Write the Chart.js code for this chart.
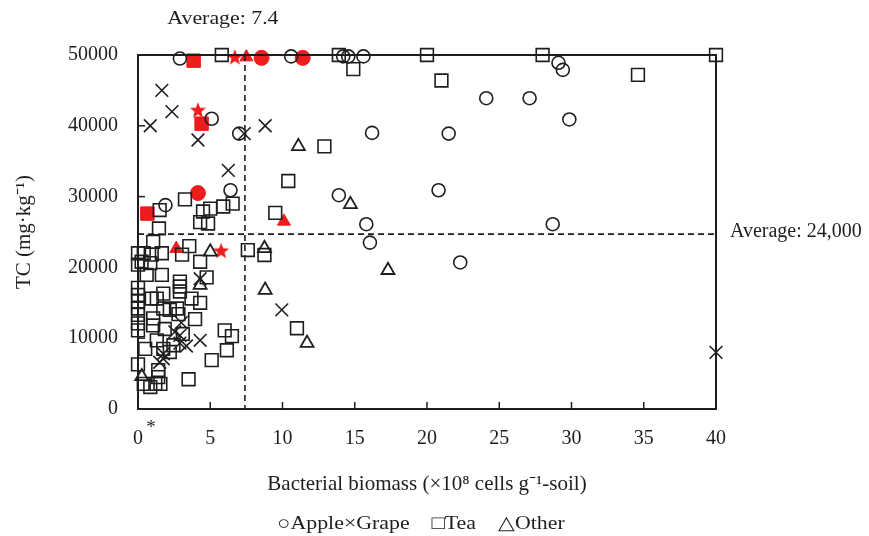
<!DOCTYPE html>
<html>
<head>
<meta charset="utf-8">
<script src="https://cdn.jsdelivr.net/npm/chart.js@4.4.1/dist/chart.umd.min.js"></script>
<style>
  html, body { margin: 0; padding: 0; background: #fff; }
  #wrap { width: 869px; height: 536px; }
</style>
</head>
<body>
<div id="wrap"><canvas id="myChart" width="869" height="536"></canvas></div>
<script>
// values: [biomass, TC]
var apple = [[2.9,49500],[10.6,49800],[14.2,49800],[14.55,49800],[15.6,49800],[29.1,48900],[29.4,47900],
  [24.1,43900],[27.1,43900],[5.1,41000],[7.0,38900],[16.2,39000],[21.5,38900],[29.85,40900],[6.4,30900],
  [13.9,30200],[20.8,30900],[1.9,28800],[15.8,26100],[28.7,26100],[16.05,23500],[22.3,20700]];
var appleRed = [[8.55,49600],[11.4,49600],[4.15,30500]];

var grape = [[1.65,45000],[2.35,42000],[0.85,40000],[4.15,38000],[7.35,38900],[8.8,40000],[6.25,33700],
  [9.95,14000],[40,8000],[4.3,18400],[3.0,12200],[2.55,10900],[4.3,9700],[3.35,8900],[2.9,9300],
  [1.75,7800],[1.5,6600],[1.75,7100],[2.9,10400]];
var grapeRed = [[6.7,49700],[4.15,42200],[5.75,22350]];

var tea = [[5.8,50000],[13.9,50000],[20.0,50000],[28.0,50000],[40,50000],[14.9,48000],[21.0,46400],
  [34.6,47200],[12.9,37100],[10.4,32200],[3.25,29600],[1.5,28100],[5.0,28300],[4.5,27900],[5.9,28600],
  [6.55,29000],[4.3,26400],[4.85,26200],[1.45,25500],[9.5,27700],[1.05,23600],[3.55,23000],[3.05,21800],
  [7.6,22450],[8.75,21750],[0,22000],[0.4,22000],[0.95,21800],[1.65,22000],[0.25,20800],[0.85,20600],
  [0,20400],[4.3,20800],[0.6,18950],[1.65,18950],[4.75,18600],[2.9,18000],[2.9,17300],[2.9,16600],
  [0,17100],[0,16100],[0,15200],[0,14200],[0,13300],[0,12100],[0,11100],[0.95,15600],[1.3,15600],
  [1.75,16300],[3.7,15600],[4.3,15000],[1.75,14200],[2.2,14000],[2.7,14200],[1.05,12800],[1.05,11800],
  [2.8,13400],[3.95,12700],[1.85,11300],[3.1,10600],[1.3,9700],[0.5,8500],[1.75,8500],[2.2,8050],
  [2.45,9000],[1.4,5500],[6.0,11100],[6.5,10300],[6.15,8300],[5.1,6900],[3.5,4200],[0,6300],
  [0.4,3550],[0.85,3100],[1.2,3550],[1.55,3550],[1.4,4500],[11.0,11400]];
var teaRed = [[3.85,49200],[4.4,40300],[0.65,27600]];

var other = [[11.1,37100],[14.7,28900],[17.3,19600],[8.75,22700],[8.8,16800],[11.7,9300],[5.0,22200],
  [4.3,17500],[0.26,4600]];
var otherRed = [[7.5,49700],[10.1,26500],[2.65,22650]];

var avgBiomass = 7.4;
var avgTC = 24700;
var xTicks = [0, 5, 10, 15, 20, 25, 30, 35, 40];
var yTicks = [0, 10000, 20000, 30000, 40000, 50000];

var ink = "#1e1e1e";
var red = "#ee1c1c";
var serif = "'Liberation Serif', 'Times New Roman', serif";

function pts(arr) {
  return arr.map(function (p) { return { x: p[0], y: p[1] }; });
}

// filled red star used as a point image
var star = document.createElement("canvas");
star.width = 18;
star.height = 18;
(function () {
  var c = star.getContext("2d");
  c.fillStyle = red;
  c.beginPath();
  for (var i = 0; i < 10; i++) {
    var r = i % 2 === 0 ? 8.5 : 3.6;
    var a = -Math.PI / 2 + i * Math.PI / 5;
    c.lineTo(9 + r * Math.cos(a), 9.5 + r * Math.sin(a));
  }
  c.closePath();
  c.fill();
})();

// text in the source figure is a little wider than the font, stretch it
function wideText(ctx, s, x, y, align, k) {
  ctx.save();
  ctx.translate(x, y);
  ctx.scale(k, 1);
  ctx.textAlign = align;
  ctx.fillText(s, 0, 0);
  ctx.restore();
}

var extras = {
  id: "extras",
  afterDatasetsDraw: function (chart) {
    var ctx = chart.ctx;
    var xs = chart.scales.x, ys = chart.scales.y;
    var l = xs.getPixelForValue(0), r = xs.getPixelForValue(40);
    var t = ys.getPixelForValue(50000), b = ys.getPixelForValue(0);
    ctx.save();
    ctx.strokeStyle = ink;
    ctx.lineWidth = 1.6;
    ctx.setLineDash([6, 4]);
    var vx = xs.getPixelForValue(avgBiomass);
    ctx.beginPath(); ctx.moveTo(vx, t); ctx.lineTo(vx, b); ctx.stroke();
    var hy = ys.getPixelForValue(avgTC);
    ctx.beginPath(); ctx.moveTo(l, hy); ctx.lineTo(r, hy); ctx.stroke();
    ctx.setLineDash([]);
    ctx.lineWidth = 2;
    ctx.strokeRect(l, t, r - l, b - t);
    ctx.lineWidth = 1.5;
    xTicks.slice(1, -1).forEach(function (v) {
      var px = xs.getPixelForValue(v);
      ctx.beginPath(); ctx.moveTo(px, b); ctx.lineTo(px, b - 7); ctx.stroke();
    });
    yTicks.slice(1, -1).forEach(function (v) {
      var py = ys.getPixelForValue(v);
      ctx.beginPath(); ctx.moveTo(l, py); ctx.lineTo(l + 7, py); ctx.stroke();
    });
    ctx.fillStyle = ink;
    ctx.font = "19px " + serif;
    ctx.textBaseline = "middle";
    wideText(ctx, "Average: 7.4", vx - 22, 19, "center", 1.15);
    wideText(ctx, "*", l + 13, 428, "center", 1);
    wideText(ctx, "\u25CBApple\u00D7Grape\u2003\u25A1Tea\u2003\u25B3Other", 421, 524, "center", 1.15);
    ctx.font = "20px " + serif;
    wideText(ctx, "Average: 24,000", r + 14, hy - 2, "left", 1);
    ctx.restore();
  }
};

var ctx = document.getElementById("myChart").getContext("2d");
var myChart = new Chart(ctx, {
  type: "scatter",
  data: {
    datasets: [
      { label: "Tea", data: pts(tea), pointStyle: "rect", radius: 9, borderColor: ink, backgroundColor: "transparent", borderWidth: 1.6 },
      { label: "Apple", data: pts(apple), pointStyle: "circle", radius: 6.5, borderColor: ink, backgroundColor: "transparent", borderWidth: 1.6 },
      { label: "Grape", data: pts(grape), pointStyle: "crossRot", radius: 9, borderColor: ink, borderWidth: 1.6 },
      { label: "Other", data: pts(other), pointStyle: "triangle", radius: 7.5, borderColor: ink, backgroundColor: "transparent", borderWidth: 1.8 },
      { label: "Tea*", data: pts(teaRed), pointStyle: "rect", radius: 9.5, borderColor: red, backgroundColor: red, borderWidth: 1 },
      { label: "Apple*", data: pts(appleRed), pointStyle: "circle", radius: 7.5, borderColor: red, backgroundColor: red, borderWidth: 1 },
      { label: "Grape*", data: pts(grapeRed), pointStyle: star, borderColor: red, backgroundColor: red },
      { label: "Other*", data: pts(otherRed), pointStyle: "triangle", radius: 7.5, borderColor: red, backgroundColor: red, borderWidth: 1 }
    ]
  },
  options: {
    responsive: false,
    animation: false,
    clip: false,
    layout: { padding: { top: 55, right: 153, left: 0, bottom: 0 } },
    plugins: { legend: { display: false }, tooltip: { enabled: false } },
    elements: { point: { hoverRadius: 0 } },
    scales: {
      x: {
        type: "linear", min: 0, max: 40,
        afterFit: function (s) { s.height = 127; },
        afterBuildTicks: function (s) { s.ticks = xTicks.map(function (v) { return { value: v }; }); },
        grid: { display: false },
        border: { display: false },
        ticks: { padding: 10, color: ink, font: { family: serif, size: 20 }, maxRotation: 0,
          callback: function (v) { return String(v); } },
        title: { display: true, text: "Bacterial biomass (\u00D710\u2078 cells g\u207B\u00B9-soil)", color: ink,
          font: { family: serif, size: 21 }, padding: { top: 0, bottom: 39 } }
      },
      y: {
        type: "linear", min: 0, max: 50000,
        afterFit: function (s) { s.width = 138; },
        afterBuildTicks: function (s) { s.ticks = yTicks.map(function (v) { return { value: v }; }); },
        grid: { display: false },
        border: { display: false },
        ticks: { padding: 12, color: ink, font: { family: serif, size: 20 },
          callback: function (v) { return String(v); } },
        title: { display: true, text: "TC (mg\u00B7kg\u207B\u00B9)", color: ink,
          font: { family: serif, size: 21 }, padding: { top: 12, bottom: 0 } }
      }
    }
  },
  plugins: [extras]
});
</script>
</body>
</html>
